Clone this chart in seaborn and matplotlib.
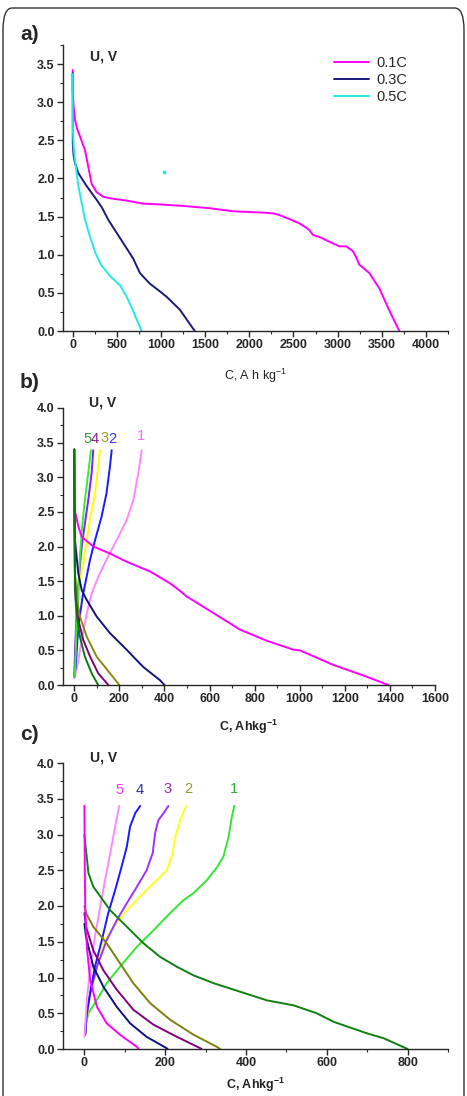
import numpy as np
import pandas as pd
import matplotlib
matplotlib.use("Agg")
import matplotlib.pyplot as plt
import seaborn as sns
from matplotlib.ticker import MultipleLocator, FormatStrFormatter
from matplotlib.patches import FancyBboxPatch

# ---------------- Panel a data ----------------
a_labels = ["0.1C", "0.3C", "0.5C"]
a_colors = ["#ff00ff", "#1a1a7a", "#22e8e8"]
a_01_C = [0, 1, 10, 26, 50, 83, 139, 177, 214, 271, 346, 422, 610, 798, 986, 1250, 1551, 1815,
          2192, 2280, 2342, 2450, 2569, 2650, 2681, 2720, 2800, 2945, 3020, 3096, 3171, 3209,
          3246, 3359, 3472, 3585, 3698]
a_01_U = [3.42, 3.12, 2.95, 2.77, 2.65, 2.55, 2.37, 2.15, 1.93, 1.82, 1.76, 1.74, 1.71, 1.67,
          1.66, 1.64, 1.61, 1.57, 1.55, 1.54, 1.52, 1.47, 1.41, 1.35, 1.32, 1.26, 1.23, 1.15,
          1.11, 1.11, 1.05, 0.97, 0.87, 0.76, 0.56, 0.27, 0.0]
a_03_C = [0, 1, 10, 26, 64, 158, 271, 330, 402, 535, 685, 761, 874, 987, 1062, 1213, 1382]
a_03_U = [3.38, 2.46, 2.30, 2.20, 2.07, 1.90, 1.72, 1.62, 1.46, 1.22, 0.95, 0.76, 0.62, 0.52,
          0.45, 0.28, 0.0]
a_05_C = [0, 1, 10, 26, 64, 139, 200, 258, 320, 422, 535, 610, 685, 780]
a_05_U = [3.37, 2.68, 2.42, 2.24, 1.90, 1.46, 1.22, 1.02, 0.87, 0.72, 0.60, 0.45, 0.26, 0.0]
a_stray_C = [1035]
a_stray_U = [2.08]

# ---------------- Panel b data ----------------
b_colors = {"1d": "#ff00ff", "1c": "#ff88ff", "2d": "#14147a", "2c": "#1a1aff",
            "3d": "#8a8a10", "3c": "#ffff00", "4d": "#800080", "4c": "#8a1aff",
            "5d": "#0a7a0a", "5c": "#33ee33"}
b_1d_C = [0, 7, 18, 33, 84, 158, 232, 336, 424, 469, 498, 617, 735, 853, 972, 1001, 1149,
          1297, 1393]
b_1d_U = [2.55, 2.45, 2.29, 2.14, 2.00, 1.90, 1.78, 1.64, 1.47, 1.36, 1.28, 1.04, 0.80, 0.64,
          0.51, 0.50, 0.29, 0.12, 0.0]
b_1c_C = [0, 3, 18, 33, 55, 77, 106, 143, 188, 232, 262, 284, 299]
b_1c_U = [0.10, 0.12, 0.36, 0.65, 1.03, 1.32, 1.56, 1.81, 2.09, 2.38, 2.67, 3.06, 3.39]
b_2d_C = [0, 1, 3, 18, 33, 55, 99, 158, 232, 306, 380, 400]
b_2d_U = [3.40, 2.80, 2.09, 1.61, 1.37, 1.23, 0.99, 0.75, 0.51, 0.26, 0.07, 0.0]
b_2c_C = [0, 6, 18, 37, 52, 70, 92, 121, 143, 158, 166]
b_2c_U = [0.12, 0.26, 0.84, 1.28, 1.52, 1.81, 2.09, 2.43, 2.77, 3.15, 3.39]
b_3d_C = [0, 1, 3, 10, 25, 55, 99, 158, 200]
b_3d_U = [3.40, 2.50, 1.61, 1.28, 0.99, 0.70, 0.41, 0.17, 0.0]
b_3c_C = [0, 4, 12, 25, 40, 55, 72, 92, 106, 114]
b_3c_U = [0.12, 0.50, 1.05, 1.52, 1.76, 2.09, 2.43, 2.77, 3.15, 3.39]
b_4d_C = [0, 1, 3, 7, 18, 40, 70, 106, 151]
b_4d_U = [3.40, 2.40, 1.60, 1.23, 0.94, 0.65, 0.41, 0.17, 0.0]
b_4c_C = [0, 4, 12, 22, 33, 47, 62, 77, 84]
b_4c_U = [0.12, 0.55, 1.15, 1.61, 2.00, 2.33, 2.67, 3.06, 3.39]
b_5d_C = [0, 1, 3, 10, 25, 47, 77, 106]
b_5d_U = [3.40, 2.60, 1.37, 1.03, 0.70, 0.41, 0.17, 0.0]
b_5c_C = [0, 3, 10, 18, 25, 35, 47, 62, 74]
b_5c_U = [0.12, 0.17, 0.84, 1.37, 1.85, 2.29, 2.67, 3.06, 3.39]
b_tags = ["5", "4", "3", "2", "1"]
b_tag_C = [60, 91, 132, 170, 294]
b_tag_U = [3.55, 3.55, 3.57, 3.55, 3.59]
b_tag_colors = ["#3a9a3a", "#8a208a", "#9a9a20", "#3333ee", "#ff66ff"]

# ---------------- Panel c data ----------------
c_colors = {"1d": "#0f800f", "1c": "#33e633", "2d": "#808010", "2c": "#ffff1a",
            "3d": "#800080", "3c": "#9933ff", "4d": "#101080", "4c": "#1a1aff",
            "5d": "#ff00ff", "5c": "#ff88ff"}
c_1c_C = [2, 4, 10, 31, 55, 88, 130, 171, 212, 245, 270, 303, 328, 344, 357, 365, 371]
c_1c_U = [0.22, 0.36, 0.50, 0.69, 0.92, 1.15, 1.43, 1.66, 1.90, 2.08, 2.18, 2.36, 2.54, 2.69,
          2.97, 3.25, 3.40]
c_1d_C = [0, 2, 10, 22, 64, 105, 146, 187, 229, 270, 320, 386, 452, 518, 575, 617, 699, 741, 800]
c_1d_U = [3.00, 2.88, 2.46, 2.27, 1.94, 1.71, 1.48, 1.29, 1.15, 1.03, 0.92, 0.80, 0.68, 0.61,
          0.50, 0.38, 0.22, 0.15, 0.0]
c_2c_C = [2, 10, 30, 35, 47, 72, 105, 146, 179, 204, 216, 225, 237, 252]
c_2c_U = [0.25, 0.60, 1.10, 1.29, 1.48, 1.71, 1.94, 2.18, 2.36, 2.50, 2.69, 2.97, 3.20, 3.40]
c_2d_C = [0, 4, 22, 55, 88, 121, 163, 212, 270, 328, 336]
c_2d_U = [2.00, 1.90, 1.71, 1.48, 1.20, 0.92, 0.64, 0.41, 0.20, 0.03, 0.0]
c_3c_C = [2, 4, 14, 31, 55, 80, 105, 130, 154, 169, 175, 183, 196, 208]
c_3c_U = [0.20, 0.41, 0.78, 1.15, 1.52, 1.80, 2.04, 2.27, 2.50, 2.74, 3.02, 3.20, 3.30, 3.40]
c_3d_C = [0, 4, 22, 47, 80, 121, 171, 229, 287, 290]
c_3d_U = [1.90, 1.71, 1.38, 1.10, 0.83, 0.55, 0.34, 0.17, 0.01, 0.0]
c_4c_C = [2, 6, 14, 26, 43, 59, 76, 92, 105, 113, 126, 138]
c_4c_U = [0.20, 0.50, 0.78, 1.15, 1.52, 1.90, 2.22, 2.55, 2.83, 3.11, 3.30, 3.40]
c_4d_C = [0, 4, 22, 47, 80, 113, 154, 204, 206]
c_4d_U = [1.75, 1.57, 1.15, 0.87, 0.59, 0.36, 0.17, 0.01, 0.0]
c_5c_C = [0, 2, 6, 14, 26, 39, 51, 64, 76, 86]
c_5c_U = [0.17, 0.31, 0.69, 1.10, 1.57, 1.99, 2.36, 2.74, 3.11, 3.40]
c_5d_C = [0, 1, 2, 6, 14, 31, 55, 88, 130, 134]
c_5d_U = [3.40, 2.50, 1.99, 1.43, 0.97, 0.59, 0.36, 0.20, 0.03, 0.0]
c_tags = ["5", "4", "3", "2", "1"]
c_tag_C = [86, 138, 206, 256, 371]
c_tag_U = [3.62, 3.62, 3.63, 3.63, 3.63]
c_tag_colors = ["#ff33ff", "#333399", "#993399", "#999933", "#33aa33"]

# ---------------- build frames ----------------
def frame(pairs):
    rows = []
    for name, (xs, ys) in pairs.items():
        for x, y in zip(xs, ys):
            rows.append((name, x, y))
    return pd.DataFrame(rows, columns=["curve", "C", "U"])

df_a = frame({"0.1C": (a_01_C, a_01_U), "0.3C": (a_03_C, a_03_U), "0.5C": (a_05_C, a_05_U)})
df_b = frame({"1c": (b_1c_C, b_1c_U), "2c": (b_2c_C, b_2c_U), "3c": (b_3c_C, b_3c_U),
              "4c": (b_4c_C, b_4c_U), "5c": (b_5c_C, b_5c_U),
              "1d": (b_1d_C, b_1d_U), "2d": (b_2d_C, b_2d_U), "3d": (b_3d_C, b_3d_U),
              "4d": (b_4d_C, b_4d_U), "5d": (b_5d_C, b_5d_U)})
df_c = frame({"1c": (c_1c_C, c_1c_U), "2c": (c_2c_C, c_2c_U), "3c": (c_3c_C, c_3c_U),
              "4c": (c_4c_C, c_4c_U), "5c": (c_5c_C, c_5c_U),
              "1d": (c_1d_C, c_1d_U), "2d": (c_2d_C, c_2d_U), "3d": (c_3d_C, c_3d_U),
              "4d": (c_4d_C, c_4d_U), "5d": (c_5d_C, c_5d_U)})

# ---------------- style ----------------
sns.set_style("ticks")
plt.rcParams["font.family"] = ["Liberation Sans", "DejaVu Sans"]
plt.rcParams["axes.linewidth"] = 1.0
plt.rcParams["lines.solid_joinstyle"] = "round"

W, H = 467, 1096
fig = plt.figure(figsize=(W / 100, H / 100), dpi=100)

def ax_rect(l, t, r, b):
    return [l / W, 1 - b / H, (r - l) / W, (b - t) / H]

ax_a = fig.add_axes(ax_rect(63, 45, 448, 331))
ax_b = fig.add_axes(ax_rect(63, 408, 435, 685))
ax_c = fig.add_axes(ax_rect(63, 763, 448, 1049))

LW = 1.4

sns.lineplot(data=df_a, x="C", y="U", hue="curve", hue_order=a_labels,
             palette=dict(zip(a_labels, a_colors)), sort=False, estimator=None,
             linewidth=LW, ax=ax_a)
ax_a.scatter(a_stray_C, a_stray_U, s=3, color=a_colors[2], zorder=3)

sns.lineplot(data=df_b, x="C", y="U", hue="curve", palette=b_colors,
             sort=False, estimator=None, linewidth=LW, legend=False, ax=ax_b)
sns.lineplot(data=df_c, x="C", y="U", hue="curve", palette=c_colors,
             sort=False, estimator=None, linewidth=LW, legend=False, ax=ax_c)

for t, x, y, col in zip(b_tags, b_tag_C, b_tag_U, b_tag_colors):
    ax_b.text(x, y, t, color=col, fontsize=10.5, ha="center", va="center")
for t, x, y, col in zip(c_tags, c_tag_C, c_tag_U, c_tag_colors):
    ax_c.text(x, y, t, color=col, fontsize=10.5, ha="center", va="center")

# legend
handles = ax_a.get_legend_handles_labels()[0]
ax_a.legend(handles=handles, labels=a_labels, loc="upper left",
            bbox_to_anchor=(0.675, 1.0), frameon=False, fontsize=10.5,
            handlelength=2.4, labelspacing=0.2, handletextpad=0.55, borderaxespad=0.35)

# axis settings
def style(ax, xlim, ylim, xmaj, xmin, xlabel, xlab_pad, xlab_bold, uv_y):
    ax.set_xlim(*xlim)
    ax.set_ylim(*ylim)
    ax.xaxis.set_major_locator(MultipleLocator(xmaj))
    ax.xaxis.set_minor_locator(MultipleLocator(xmin))
    ax.yaxis.set_major_locator(MultipleLocator(0.5))
    ax.yaxis.set_minor_locator(MultipleLocator(0.25))
    ax.yaxis.set_major_formatter(FormatStrFormatter("%.1f"))
    sns.despine(ax=ax)
    ax.tick_params(axis="both", which="major", direction="out", length=4, width=1,
                   labelsize=9, pad=2)
    ax.tick_params(axis="both", which="minor", direction="out", length=2.5, width=0.8)
    for lab in ax.get_xticklabels() + ax.get_yticklabels():
        lab.set_fontweight("bold")
    ax.set_ylabel("")
    ax.set_xlabel(xlabel, fontsize=9, fontweight="bold" if xlab_bold else "normal",
                  labelpad=xlab_pad, color="#222222")
    ax.text(0.07, uv_y, "U, V", transform=ax.transAxes,
            fontsize=10, fontweight="bold", ha="left", va="center", clip_on=False)

style(ax_a, (-110, 4250), (0, 3.75), 500, 250, r"C, A h kg$^{\mathregular{-1}}$", 11, False, 0.96)
style(ax_b, (-50, 1600), (0, 4.0), 200, 100, r"C, Ahkg$^{\mathregular{-1}}$", 9, True, 1.02)
style(ax_c, (-53, 900), (0, 4.0), 200, 100, r"C, Ahkg$^{\mathregular{-1}}$", 5, True, 1.02)

# panel letters
fig.text(20 / W, 1 - 34 / H, "a)", fontsize=15, fontweight="bold", va="center", ha="left")
fig.text(20 / W, 1 - 383 / H, "b)", fontsize=15, fontweight="bold", va="center", ha="left")
fig.text(20 / W, 1 - 735 / H, "c)", fontsize=15, fontweight="bold", va="center", ha="left")

# outer rounded frame
frame_patch = FancyBboxPatch((3 / W, -0.05), (W - 6) / W, 1 - 8 / H + 0.05,
                             boxstyle="round,pad=0,rounding_size=0.02",
                             transform=fig.transFigure, fill=False,
                             edgecolor="#333333", linewidth=1.0, clip_on=False)
fig.patches.append(frame_patch)

fig.savefig("out.png", dpi=100)
